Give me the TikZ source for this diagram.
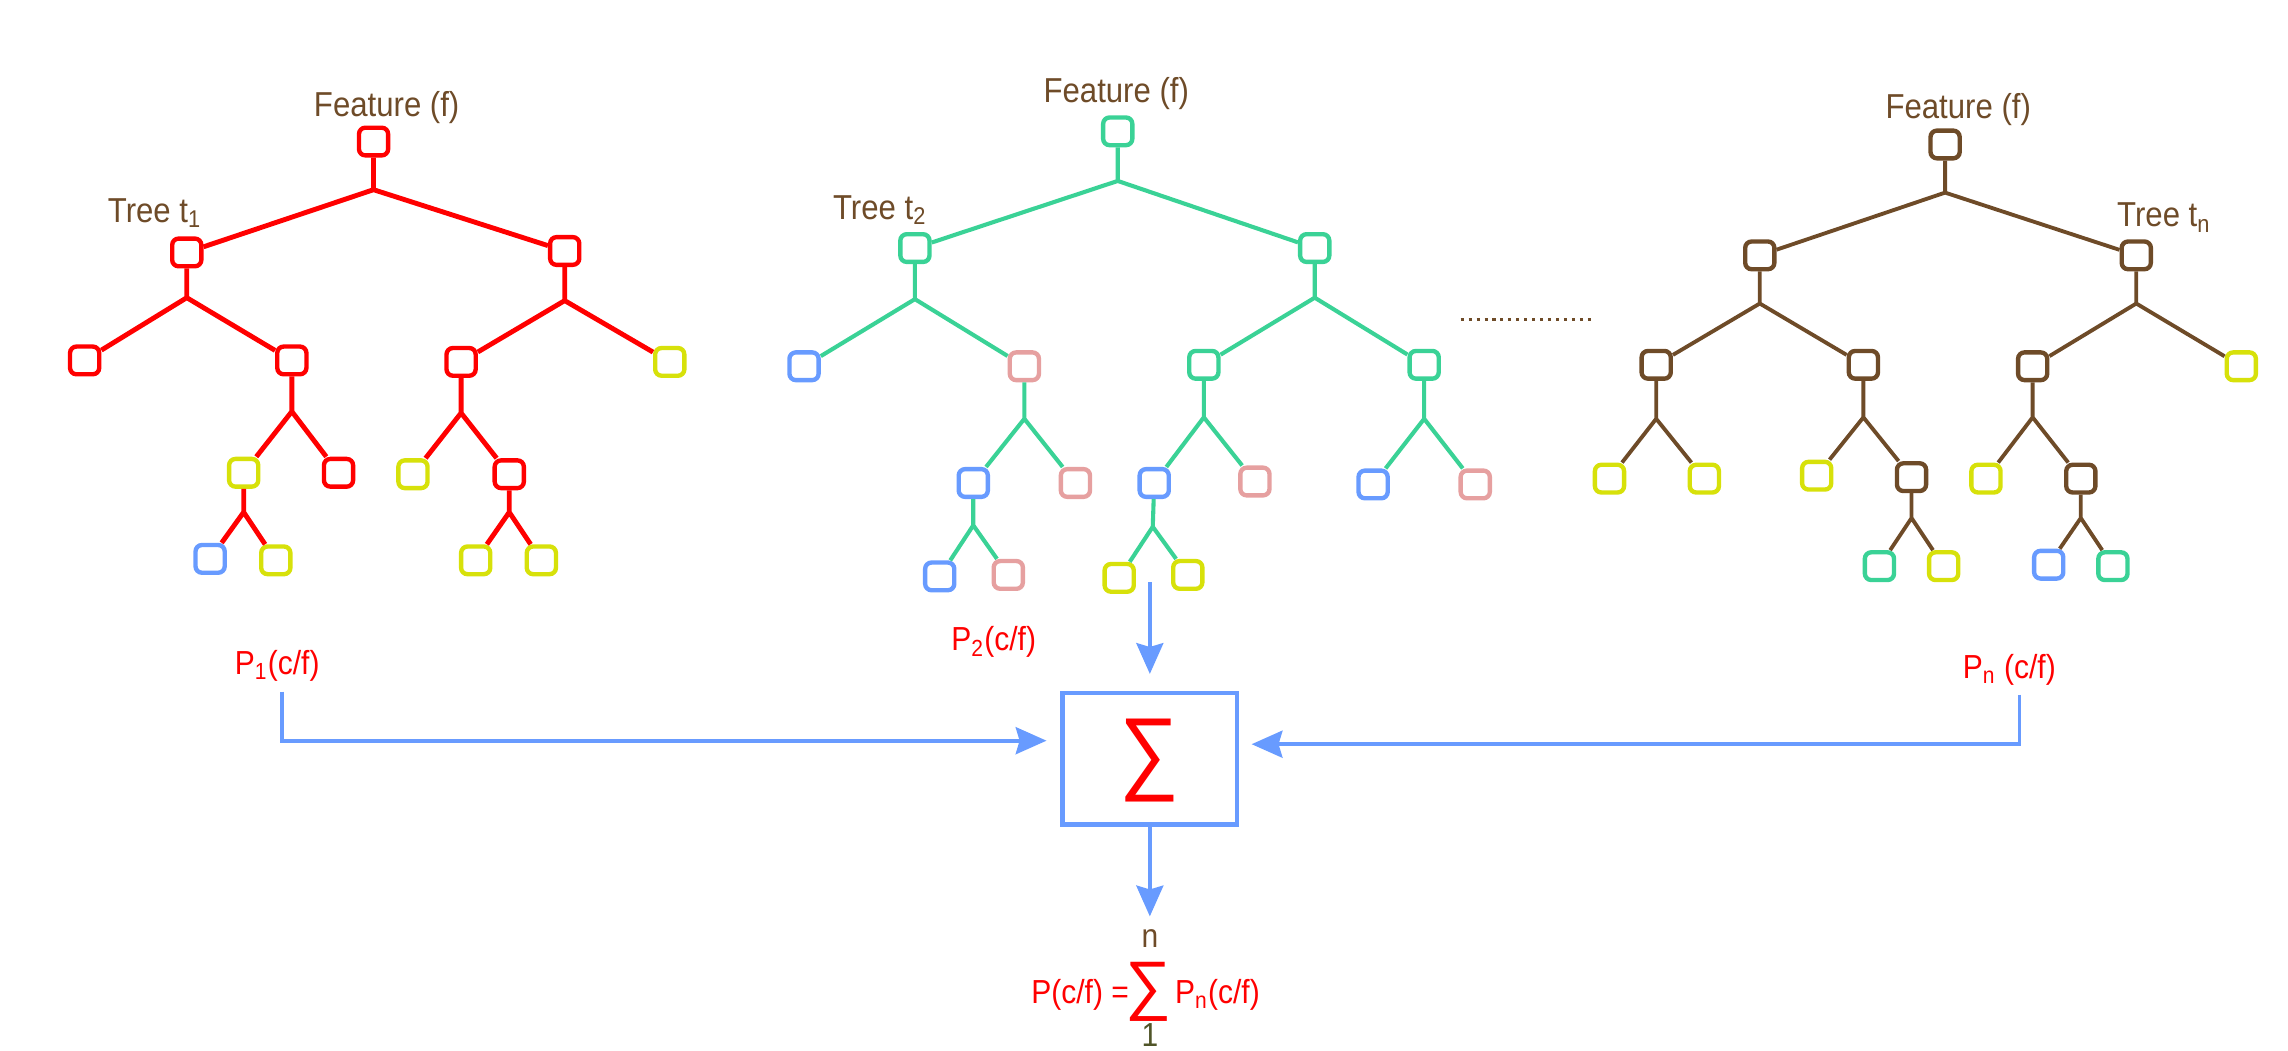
\documentclass[tikz,border=0pt]{standalone}
\usepackage{fontspec}
\setmainfont{Liberation Sans}[FakeStretch=0.9]
\usepackage{tikz}
\usetikzlibrary{arrows.meta}
\definecolor{treered}{RGB}{255,0,0}
\definecolor{treegreen}{RGB}{58,210,150}
\definecolor{treebrown}{RGB}{110,75,40}
\definecolor{leafblue}{RGB}{104,155,255}
\definecolor{leafyellow}{RGB}{215,225,10}
\definecolor{leafpink}{RGB}{230,160,160}
\definecolor{oneolive}{RGB}{80,85,40}

\tikzset{
  box/.style={draw, rounded corners=2.5pt, line width=1.7pt, minimum width=0.40cm, minimum height=0.38cm, inner sep=0pt, fill=white},
  redbox/.style={box, draw=treered},
  greenbox/.style={box, draw=treegreen},
  brownbox/.style={box, draw=treebrown},
  bluebox/.style={box, draw=leafblue},
  yellowbox/.style={box, draw=leafyellow},
  pinkbox/.style={box, draw=leafpink},
  redtree/.style={draw=treered, line width=1.9pt, line join=round},
  greentree/.style={draw=treegreen, line width=1.6pt, line join=round},
  browntree/.style={draw=treebrown, line width=1.5pt, line join=round},
  feat/.style={text=treebrown, font=\fontsize{13.5}{16}\selectfont},
  prob/.style={text=treered, font=\fontsize{13}{15}\selectfont},
  sumbox/.style={draw=leafblue, line width=1.8pt, minimum width=2.39cm, minimum height=1.8cm},
  flow/.style={draw=leafblue, line width=1.5pt, -{Stealth[length=12pt,width=10.5pt,inset=1.5pt]}},
}

\begin{document}
\begin{tikzpicture}[x=0.02cm, y=-0.02cm]
\useasboundingbox (0,0) rectangle (1568,720);

\node[feat] (af) at (265,74) {Feature (f)};
\node[feat] (at) at (106,146) {Tree t\textsubscript{1}};
\node[redbox] (a0) at (256,97) {};
\coordinate (aj) at (256,130);
\node[redbox] (aL) at (128,173) {};
\node[redbox] (aR) at (387,172) {};
\coordinate (aLj) at (128,204);
\node[redbox] (aLL) at (58,247) {};
\node[redbox] (aLR) at (200,247) {};
\coordinate (aLRj) at (200,282);
\node[yellowbox] (aLRL) at (167,324) {};
\node[redbox] (aLRR) at (232,324) {};
\coordinate (aLRLj) at (167,351);
\node[bluebox] (aLRLL) at (144,383) {};
\node[yellowbox] (aLRLR) at (189,384) {};
\coordinate (aRj) at (387,206);
\node[redbox] (aRL) at (316,248) {};
\node[yellowbox] (aRR) at (459,248) {};
\coordinate (aRLj) at (316,283);
\node[yellowbox] (aRLL) at (283,325) {};
\node[redbox] (aRLR) at (349,325) {};
\coordinate (aRLRj) at (349,351);
\node[yellowbox] (aRLRL) at (326,384) {};
\node[yellowbox] (aRLRR) at (371,384) {};
\draw[redtree] (a0) -- (aj) -- (aL) (aj) -- (aR);
\draw[redtree] (aL) -- (aLj) -- (aLL) (aLj) -- (aLR);
\draw[redtree] (aLR) -- (aLRj) -- (aLRL) (aLRj) -- (aLRR);
\draw[redtree] (aLRL) -- (aLRLj) -- (aLRLL) (aLRLj) -- (aLRLR);
\draw[redtree] (aR) -- (aRj) -- (aRL) (aRj) -- (aRR);
\draw[redtree] (aRL) -- (aRLj) -- (aRLL) (aRLj) -- (aRLR);
\draw[redtree] (aRLR) -- (aRLRj) -- (aRLRL) (aRLRj) -- (aRLRR);

\node[feat] (bf) at (765,64) {Feature (f)};
\node[feat] (bt) at (603,144) {Tree t\textsubscript{2}};
\node[greenbox] (b0) at (766,90) {};
\coordinate (bj) at (766,124);
\node[greenbox] (bL) at (627,170) {};
\node[greenbox] (bR) at (901,170) {};
\coordinate (bLj) at (627,205);
\node[bluebox] (bLL) at (551,251) {};
\node[pinkbox] (bLR) at (702,251) {};
\coordinate (bLRj) at (702,287);
\node[bluebox] (bLRL) at (667,331) {};
\node[pinkbox] (bLRR) at (737,331) {};
\coordinate (bLRLj) at (667,360);
\node[bluebox] (bLRLL) at (644,395) {};
\node[pinkbox] (bLRLR) at (691,394) {};
\coordinate (bRj) at (901,204);
\node[greenbox] (bRL) at (825,250) {};
\node[greenbox] (bRR) at (976,250) {};
\coordinate (bRLj) at (825,286);
\node[bluebox] (bRLL) at (791,331) {};
\node[pinkbox] (bRLR) at (860,330) {};
\coordinate (bRLLj) at (790,361);
\node[yellowbox] (bRLLL) at (767,396) {};
\node[yellowbox] (bRLLR) at (814,394) {};
\coordinate (bRRj) at (976,287);
\node[bluebox] (bRRL) at (941,332) {};
\node[pinkbox] (bRRR) at (1011,332) {};
\draw[greentree] (b0) -- (bj) -- (bL) (bj) -- (bR);
\draw[greentree] (bL) -- (bLj) -- (bLL) (bLj) -- (bLR);
\draw[greentree] (bLR) -- (bLRj) -- (bLRL) (bLRj) -- (bLRR);
\draw[greentree] (bLRL) -- (bLRLj) -- (bLRLL) (bLRLj) -- (bLRLR);
\draw[greentree] (bR) -- (bRj) -- (bRL) (bRj) -- (bRR);
\draw[greentree] (bRL) -- (bRLj) -- (bRLL) (bRLj) -- (bRLR);
\draw[greentree] (bRLL) -- (bRLLj) -- (bRLLL) (bRLLj) -- (bRLLR);
\draw[greentree] (bRR) -- (bRRj) -- (bRRL) (bRRj) -- (bRRR);

\draw[treebrown, line width=1.2pt, dash pattern=on 1.2pt off 1.9pt] (1001,219) -- (1091,219);

\node[feat] (cf) at (1342,75) {Feature (f)};
\node[feat] (ct) at (1483,149) {Tree t\textsubscript{n}};
\node[brownbox] (c0) at (1333,99) {};
\coordinate (cj) at (1333,132);
\node[brownbox] (cL) at (1206,175) {};
\node[brownbox] (cR) at (1464,175) {};
\coordinate (cLj) at (1206,208);
\node[brownbox] (cLL) at (1135,250) {};
\node[brownbox] (cLR) at (1277,250) {};
\coordinate (cLLj) at (1135,287);
\node[yellowbox] (cLLL) at (1103,328) {};
\node[yellowbox] (cLLR) at (1168,328) {};
\coordinate (cLRj) at (1277,286);
\node[yellowbox] (cLRL) at (1245,326) {};
\node[brownbox] (cLRR) at (1310,327) {};
\coordinate (cLRRj) at (1310,355);
\node[greenbox] (cLRRL) at (1288,388) {};
\node[yellowbox] (cLRRR) at (1332,388) {};
\coordinate (cRj) at (1464,208);
\node[brownbox] (cRL) at (1393,251) {};
\node[yellowbox] (cRR) at (1536,251) {};
\coordinate (cRLj) at (1393,286);
\node[yellowbox] (cRLL) at (1361,328) {};
\node[brownbox] (cRLR) at (1426,328) {};
\coordinate (cRLRj) at (1426,355);
\node[bluebox] (cRLRL) at (1404,387) {};
\node[greenbox] (cRLRR) at (1448,388) {};
\draw[browntree] (c0) -- (cj) -- (cL) (cj) -- (cR);
\draw[browntree] (cL) -- (cLj) -- (cLL) (cLj) -- (cLR);
\draw[browntree] (cLL) -- (cLLj) -- (cLLL) (cLLj) -- (cLLR);
\draw[browntree] (cLR) -- (cLRj) -- (cLRL) (cLRj) -- (cLRR);
\draw[browntree] (cLRR) -- (cLRRj) -- (cLRRL) (cLRRj) -- (cLRRR);
\draw[browntree] (cR) -- (cRj) -- (cRL) (cRj) -- (cRR);
\draw[browntree] (cRL) -- (cRLj) -- (cRLL) (cRLj) -- (cRLR);
\draw[browntree] (cRLR) -- (cRLRj) -- (cRLRL) (cRLRj) -- (cRLRR);

\node[prob] (p1) at (190,456) {P\textsubscript{1}(c/f)};
\node[prob] (p2) at (681,440) {P\textsubscript{2}(c/f)};
\node[prob] (pn) at (1377,459) {P\textsubscript{n} (c/f)};
\node[sumbox] (sum) at (788,520) {};
\node[text=treered, inner sep=0pt] (sumsign) at (788,521) {\resizebox{0.82cm}{0.87cm}{∑}};
\coordinate (p1in) at (193,474);
\coordinate (p2in) at (788,399);
\coordinate (pnin) at (1384,476);
\coordinate (outtip) at (788,628);
\draw[flow, shorten >=6.6pt] (p2in) -- (sum.north);
\draw[flow, shorten >=5.4pt] (p1in) |- ([yshift=0.248cm]sum.west);
\draw[flow, shorten >=4.8pt] (pnin) |- ([yshift=0.2cm]sum.east);
\draw[flow] (sum.south) -- (outtip);

\node[text=treered, inner sep=0pt] (fsum) at (787,680) {\resizebox{0.63cm}{0.62cm}{∑}};
\node[feat, font=\fontsize{13}{15}\selectfont, inner sep=0pt] (fn) at (788,643) {n};
\node[text=oneolive, font=\fontsize{13}{15}\selectfont, inner sep=0pt] (fone) at (788,709) {1};
\node[prob, anchor=base east, inner sep=0pt] (fl) at (774,688) {P(c/f) =};
\node[prob, anchor=base west, inner sep=0pt] (fr) at (805,688) {P\textsubscript{n}(c/f)};
\end{tikzpicture}
\end{document}
